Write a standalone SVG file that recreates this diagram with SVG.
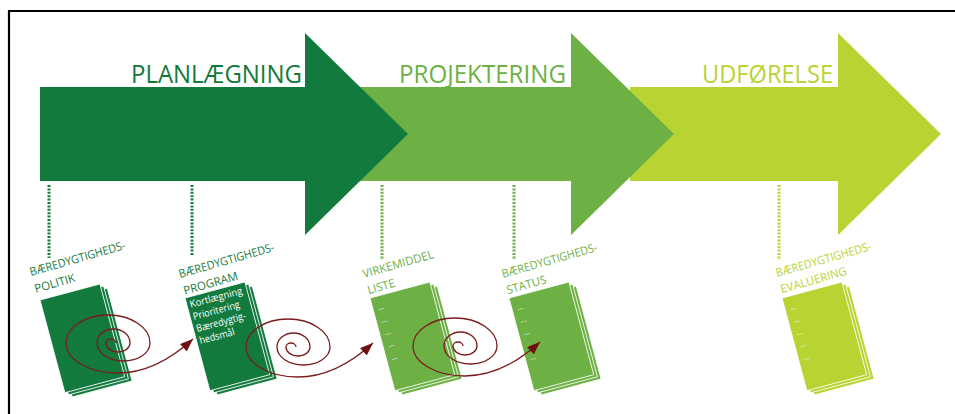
<svg xmlns="http://www.w3.org/2000/svg" width="955" height="414" viewBox="0 0 955 414">
  <style>
    .h { font-family: "Open Sans", "Noto Sans", sans-serif; font-size: 25px; }
    .lab { font-family: "Open Sans", "Noto Sans", sans-serif; font-size: 11.5px; }
    .dt { font-family: "Open Sans", "Noto Sans", sans-serif; font-size: 10px; fill: #ffffff; }
    .dd { font-family: "Open Sans", "Noto Sans", sans-serif; font-size: 8px; fill: #ffffff; }
    .c1 { fill: #137a3e; }
    .c2 { fill: #6db044; }
    .c3 { fill: #b7d433; }
    .sheet { stroke: #ffffff; stroke-width: 0.8; }
    .dot { fill: none; stroke-width: 3; stroke-dasharray: 2 1.4; }
    .s1 { stroke: #137a3e; }
    .s2 { stroke: #6db044; }
    .s3 { stroke: #b7d433; }
    .sp { fill: none; stroke: #7a1c1c; stroke-width: 1.3; marker-end: url(#ah); }
  </style>
  <defs>
    <marker id="ah" markerUnits="userSpaceOnUse" markerWidth="14" markerHeight="11" refX="13" refY="5" orient="auto">
      <path d="M0,0 L13,5 L0,10 Z" fill="#6e1010"/>
    </marker>
    <g id="stack">
      <rect x="6" y="6" width="62" height="96" class="sheet"/>
      <rect x="3" y="3" width="62" height="96" class="sheet"/>
      <rect x="0" y="0" width="62" height="96" class="sheet"/>
    </g>
  </defs>

  <rect width="955" height="414" fill="#ffffff"/>
  <path d="M9,414 V11 H955" fill="none" stroke="#000000" stroke-width="2.2"/>

  <!-- phase arrows (back to front) -->
  <g id="phase-udfoerelse">
    <path class="c3" d="M630,87 H838 V33 L941,134 L838,235 V181 H630 Z"/>
    <text class="h c3" x="702" y="83" textLength="131" lengthAdjust="spacingAndGlyphs">UDFØRELSE</text>
  </g>
  <g id="phase-projektering">
    <path class="c2" d="M360,87 H571 V33 L674,134 L571,235 V181 H360 Z"/>
    <text class="h c2" x="399" y="83" textLength="167" lengthAdjust="spacingAndGlyphs">PROJEKTERING</text>
  </g>
  <g id="phase-planlaegning">
    <path class="c1" d="M40,87 H305 V33 L408,134 L305,235 V181 H40 Z"/>
    <text class="h c1" x="131" y="83" textLength="171" lengthAdjust="spacingAndGlyphs">PLANLÆGNING</text>
  </g>

  <!-- milestones -->
  <g id="node-politik">
    <line class="dot s1" x1="49" y1="185" x2="49" y2="258"/>
    <text class="lab c1" transform="translate(31,276) rotate(-16)"><tspan x="0" y="0" textLength="99" lengthAdjust="spacingAndGlyphs">BÆREDYGTIGHEDS-</tspan><tspan x="0" y="17.5">POLITIK</tspan></text>
    <use href="#stack" class="c1" transform="translate(40,300) rotate(-15)"/>
  </g>

  <g id="node-program">
    <line class="dot s1" x1="192" y1="185" x2="192" y2="256"/>
    <text class="lab c1" transform="translate(180,278) rotate(-16)"><tspan x="0" y="0" textLength="99" lengthAdjust="spacingAndGlyphs">BÆREDYGTIGHEDS-</tspan><tspan x="0" y="17.5">PROGRAM</tspan></text>
    <g transform="translate(185,298) rotate(-15)">
      <use href="#stack" class="c1"/>
      <text class="dt" x="3" y="11" textLength="54" lengthAdjust="spacingAndGlyphs">Kortlægning</text>
      <text class="dt" x="3" y="23.5" textLength="48" lengthAdjust="spacingAndGlyphs">Prioritering</text>
      <text class="dt" x="3" y="36" textLength="51" lengthAdjust="spacingAndGlyphs">Bæredygtig-</text>
      <text class="dt" x="3" y="48.5" textLength="36" lengthAdjust="spacingAndGlyphs">hedsmål</text>
    </g>
  </g>

  <g id="node-virkemiddelliste">
    <line class="dot s2" x1="382" y1="185" x2="382" y2="260"/>
    <text class="lab c2" transform="translate(364,278) rotate(-16)"><tspan x="0" y="0">VIRKEMIDDEL</tspan><tspan x="0" y="17">LISTE</tspan></text>
    <g transform="translate(370,298) rotate(-15)">
      <use href="#stack" class="c2"/>
      <text class="dd" x="5" y="14">...</text>
      <text class="dd" x="5" y="27">...</text>
      <text class="dd" x="5" y="40">...</text>
      <text class="dd" x="5" y="52.5">...</text>
      <text class="dd" x="5" y="65.5">...</text>
    </g>
  </g>

  <g id="node-status">
    <line class="dot s2" x1="514" y1="185" x2="514" y2="260"/>
    <text class="lab c2" transform="translate(503,278) rotate(-16)"><tspan x="0" y="0" textLength="99" lengthAdjust="spacingAndGlyphs">BÆREDYGTIGHEDS-</tspan><tspan x="0" y="17">STATUS</tspan></text>
    <g transform="translate(509,298) rotate(-15)">
      <use href="#stack" class="c2"/>
      <text class="dd" x="5" y="14">...</text>
      <text class="dd" x="5" y="27">...</text>
      <text class="dd" x="5" y="40">...</text>
      <text class="dd" x="5" y="52.5">...</text>
      <text class="dd" x="5" y="65.5">...</text>
    </g>
  </g>

  <g id="node-evaluering">
    <line class="dot s3" x1="779" y1="185" x2="779" y2="260"/>
    <text class="lab c3" transform="translate(777,277) rotate(-16)"><tspan x="0" y="0" textLength="99" lengthAdjust="spacingAndGlyphs">BÆREDYGTIGHEDS-</tspan><tspan x="0" y="17">EVALUERING</tspan></text>
    <g transform="translate(782,298) rotate(-15)">
      <use href="#stack" class="c3"/>
      <text class="dd" x="5" y="14">...</text>
      <text class="dd" x="5" y="27">...</text>
      <text class="dd" x="5" y="40">...</text>
      <text class="dd" x="5" y="52.5">...</text>
      <text class="dd" x="5" y="65.5">...</text>
    </g>
  </g>

  <!-- connectors: spirals -->
  <g id="connectors">
    <path id="spiral-1" class="sp" d="M116,343 A5,4 0 0 0 106,343 A12,9 0 0 0 130,343 A16.5,14 0 0 0 97,343 A26.5,18 0 0 0 150,343 A42,28 0 0 0 66,343 A52,30 0 0 0 118,373 C145,373 170,360 193,339"/>
    <path id="spiral-2" class="sp" transform="translate(180,4)" d="M116,343 A5,4 0 0 0 106,343 A12,9 0 0 0 130,343 A16.5,14 0 0 0 97,343 A26.5,18 0 0 0 150,343 A42,28 0 0 0 66,343 A52,30 0 0 0 118,373 C145,373 170,360 193,339"/>
    <path id="spiral-3" class="sp" transform="translate(347,3)" d="M116,343 A5,4 0 0 0 106,343 A12,9 0 0 0 130,343 A16.5,14 0 0 0 97,343 A26.5,18 0 0 0 150,343 A42,28 0 0 0 66,343 A52,30 0 0 0 118,373 C145,373 170,360 193,339"/>
  </g>
</svg>
